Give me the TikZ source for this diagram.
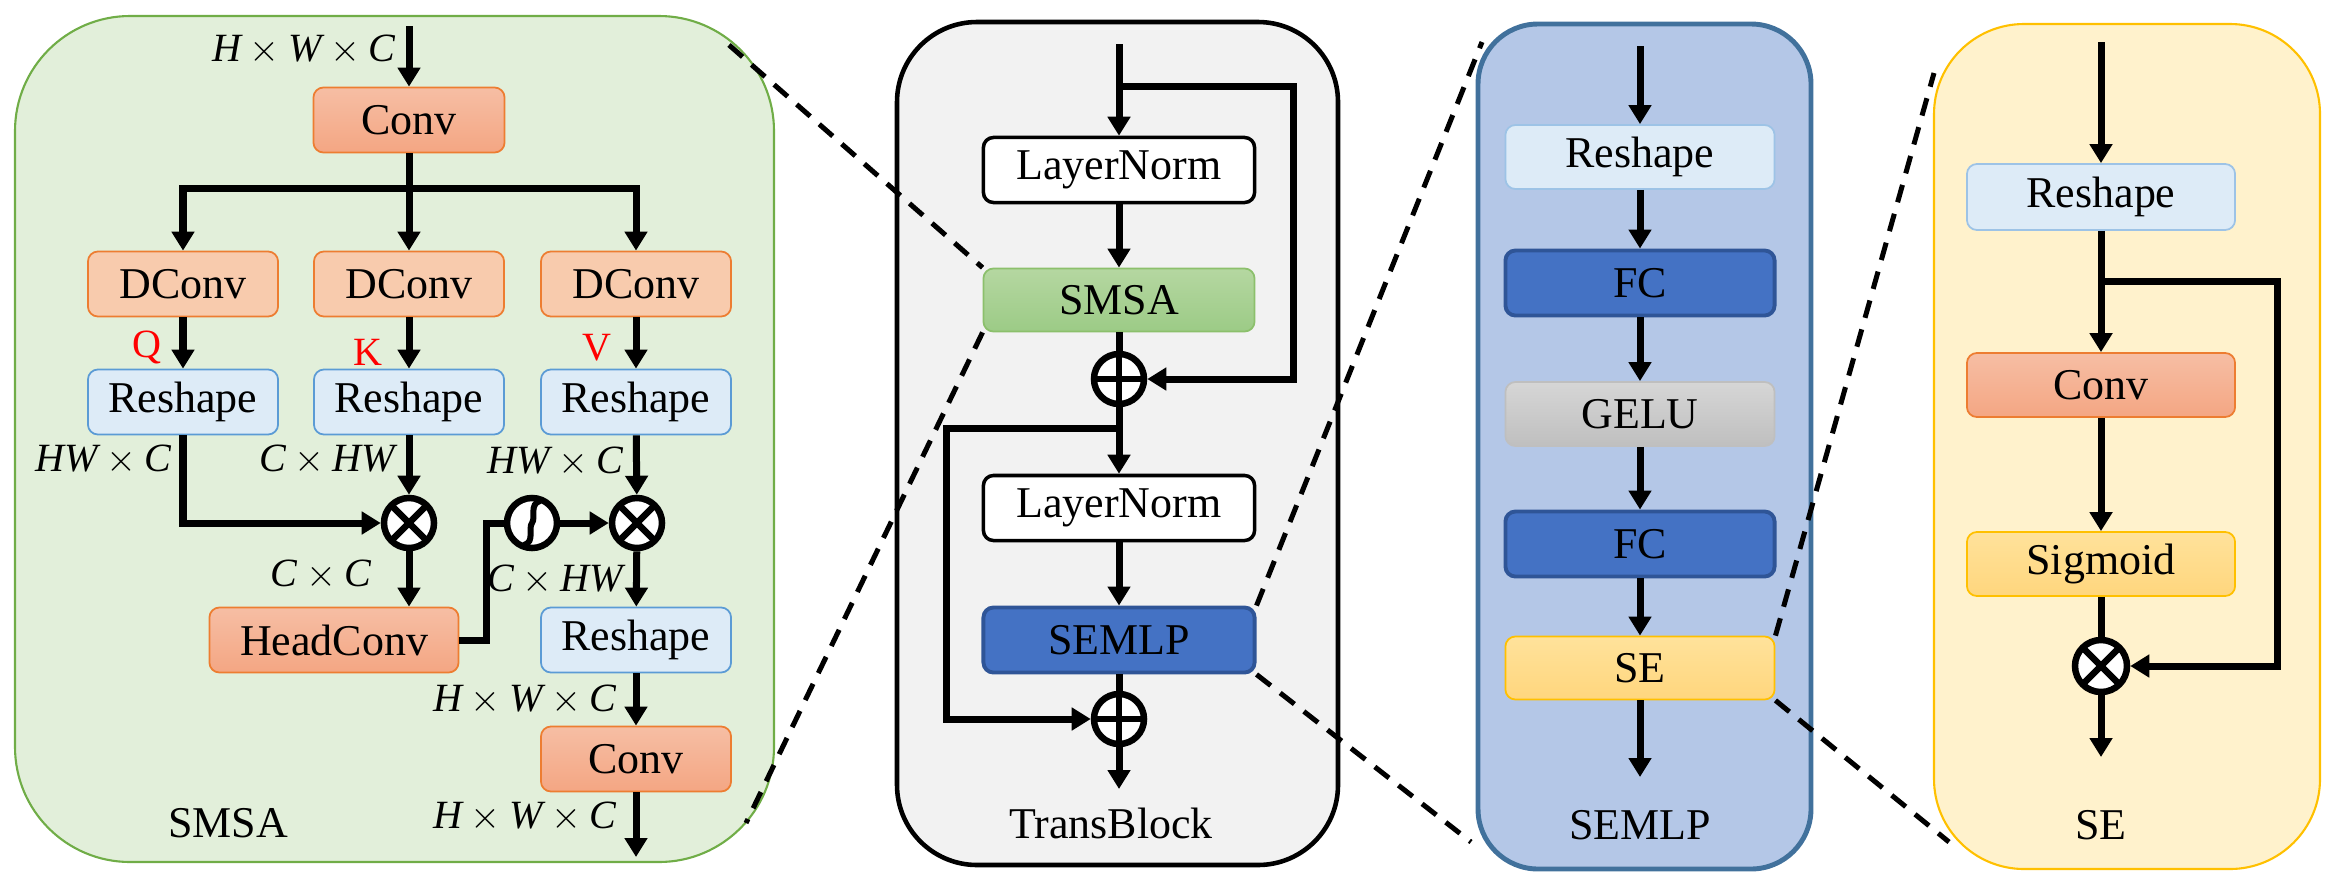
\documentclass[tikz,border=0pt]{standalone}
\usepackage{fontspec}
\setmainfont{Liberation Serif}
\usetikzlibrary{arrows.meta}
\definecolor{pnlgreen}{HTML}{E2EFDA}
\definecolor{edgegreen}{HTML}{70AD47}
\definecolor{orgtop}{HTML}{F6BEA4}
\definecolor{orgbot}{HTML}{F4A683}
\definecolor{orgedge}{HTML}{ED7D31}
\definecolor{dcfill}{HTML}{F8CBAD}
\definecolor{rsfill}{HTML}{DDEBF7}
\definecolor{rsedge}{HTML}{5B9BD5}
\definecolor{rsedgeb}{HTML}{9DC3E6}
\definecolor{smtop}{HTML}{B5D7A1}
\definecolor{smbot}{HTML}{9CCB86}
\definecolor{smedge}{HTML}{8CC06C}
\definecolor{tbfill}{HTML}{F2F2F2}
\definecolor{mlpfill}{HTML}{B4C7E7}
\definecolor{mlpedge}{HTML}{41719C}
\definecolor{fcfill}{HTML}{4472C4}
\definecolor{fcedge}{HTML}{2F5597}
\definecolor{getop}{HTML}{D6D6D6}
\definecolor{gebot}{HTML}{BFBFBF}
\definecolor{yetop}{HTML}{FFE29B}
\definecolor{yebot}{HTML}{FFD67D}
\definecolor{yeedge}{HTML}{FFC000}
\definecolor{sefill}{HTML}{FFF2CC}
\tikzset{
  box/.style={rounded corners=0.1cm,inner sep=0pt,minimum height=0.65cm,font=\fontsize{12.5}{15}\selectfont},
  convbox/.style={box,draw=orgedge,top color=orgtop,bottom color=orgbot,line width=0.5pt},
  dconvbox/.style={box,draw=orgedge,fill=dcfill,line width=0.5pt},
  shapebox/.style={box,draw=rsedge,fill=rsfill,line width=0.5pt},
  normbox/.style={box,draw,fill=white,line width=1pt},
  smsabox/.style={box,draw=smedge,top color=smtop,bottom color=smbot,line width=0.5pt},
  fcbox/.style={box,draw=fcedge,fill=fcfill,line width=1.1pt},
  gelubox/.style={box,draw=gebot,top color=getop,bottom color=gebot,line width=0.5pt},
  yellowbox/.style={box,draw=yeedge,top color=yetop,bottom color=yebot,line width=0.5pt},
  dimlab/.style={anchor=east,inner sep=0pt,font=\fontsize{11.4}{13}\selectfont},
  qkv/.style={text=red,inner sep=0pt,font=\fontsize{11.4}{13}\selectfont},
  paneltitle/.style={inner sep=0pt,font=\fontsize{12.5}{15}\selectfont},
  wire/.style={line width=0.07cm},
  arr/.style={wire,-{Triangle[length=0.19cm,width=0.22cm]}},
  opnode/.style={circle,draw,fill=white,line width=0.065cm,minimum size=0.5cm,inner sep=0pt},
  multop/.style={opnode,path picture={\draw[line width=0.065cm](path picture bounding box.north west)--(path picture bounding box.south east)(path picture bounding box.north east)--(path picture bounding box.south west);}},
  addop/.style={opnode,path picture={\draw[line width=0.065cm](path picture bounding box.north)--(path picture bounding box.south)(path picture bounding box.west)--(path picture bounding box.east);}},
  zoomline/.style={line width=0.05cm,dash pattern=on 0.18cm off 0.12cm},
}
\begin{document}
\begin{tikzpicture}[x=0.01cm,y=-0.01cm]
\useasboundingbox(0,0)rectangle(2336,884);
\draw[draw=edgegreen,fill=pnlgreen,rounded corners=1.15cm,line width=0.6pt](15,16)rectangle(774,862);
\draw[fill=tbfill,rounded corners=0.8cm,line width=1.3pt](897,22)rectangle(1338,865);
\draw[draw=mlpedge,fill=mlpfill,rounded corners=0.6cm,line width=1.4pt](1478,24)rectangle(1811,869);
\draw[draw=yeedge,fill=sefill,rounded corners=0.9cm,line width=0.6pt](1934,24)rectangle(2320,869);
% SMSA
\coordinate(smin)at(409,26);
\coordinate(br)at(409,188);
\coordinate(smout)at(636,857);
\node[dimlab](lin)at(396,50){$\mathit{H}\times\mathit{W}\times\mathit{C}$};
\node[convbox,minimum width=1.91cm](conv1)at(409,120){Conv};
\foreach \n/\x/\lx/\ly/\t in {q/183/147/347/Q,k/409/368/352/K,v/636/597/348/V}{
  \node[dconvbox,minimum width=1.9cm](d\n)at(\x,284){DConv};
  \node[shapebox,minimum width=1.9cm](r\n)at(\x,402){Reshape};
  \node[qkv](l\n)at(\lx,\ly){\t};
  \draw[arr](d\n)--(r\n);
}
\draw[arr](smin)--(conv1);
\draw[arr](conv1)--(dk);
\foreach \n in {q,v}\draw[arr](br)-|(d\n);
\node[dimlab](lq)at(172,460){$\mathit{HW}\times\mathit{C}$};
\node[dimlab](lk)at(396,460){$\mathit{C}\times\mathit{HW}$};
\node[dimlab](lv)at(624,462){$\mathit{HW}\times\mathit{C}$};
\node[multop](m1)at(409,523){};
\node[opnode](sn)at(532,523){};
\draw[line width=0.06cm]([shift={(-8,22)}]sn.center)..controls([shift={(3,19)}]sn.center)and([shift={(-4,5)}]sn.center)..(sn.center)..controls([shift={(4,-5)}]sn.center)and([shift={(-3,-19)}]sn.center)..([shift={(8,-22)}]sn.center);
\node[multop](m2)at(637,523){};
\node[convbox,minimum width=2.49cm](hc)at(334,640){HeadConv};
\node[shapebox,minimum width=1.9cm](r4)at(636,640){Reshape};
\node[convbox,minimum width=1.9cm](conv2)at(636,759){Conv};
\node[dimlab](lcc)at(372,575){$\mathit{C}\times\mathit{C}$};
\node[dimlab](lchw)at(624,580){$\mathit{C}\times\mathit{HW}$};
\node[dimlab](lr4)at(617,700){$\mathit{H}\times\mathit{W}\times\mathit{C}$};
\node[dimlab](lout)at(617,817){$\mathit{H}\times\mathit{W}\times\mathit{C}$};
\node[paneltitle](tsmsa)at(228,823){SMSA};
\draw[arr](rq)|-(m1);
\draw[arr](rk)--(m1);
\draw[arr](m1)--(m1|-hc.north);
\draw[wire](hc.east)--++(27,0)|-(sn);
\draw[arr](sn)--(m2);
\draw[arr](rv)--(m2);
\draw[arr](m2)--(r4);
\draw[arr](r4)--(conv2);
\draw[arr](conv2)--(smout);
% TransBlock
\coordinate(tin)at(1119,44);
\coordinate(s1)at(1119,86);
\coordinate(s2)at(1119,428);
\coordinate(tout)at(1119,789);
\node[normbox,minimum width=2.71cm](ln1)at(1119,170){LayerNorm};
\node[smsabox,minimum width=2.71cm,minimum height=0.63cm](sm)at(1119,300){SMSA};
\node[addop](p1)at(1119,379){};
\node[normbox,minimum width=2.71cm](ln2)at(1119,508){LayerNorm};
\node[fcbox,minimum width=2.71cm](mlp)at(1119,640){SEMLP};
\node[addop](p2)at(1119,719){};
\node[paneltitle](ttb)at(1111,823){TransBlock};
\draw[arr](tin)--(ln1);
\draw[arr](ln1)--(sm);
\draw[wire](sm)--(p1);
\draw[arr](p1)--(ln2);
\draw[arr](ln2)--(mlp);
\draw[wire](mlp)--(p2);
\draw[arr](p2)--(tout);
\draw[arr](s1)--++(174,0)|-(p1);
\draw[arr](s2)--++(-173,0)|-(p2);
% SEMLP
\coordinate(min)at(1640,46);
\coordinate(mout)at(1640,777);
\node[shapebox,draw=rsedgeb,minimum width=2.69cm,minimum height=0.64cm](mr)at(1640,157){Reshape};
\node[fcbox,minimum width=2.69cm](fc1)at(1640,283){FC};
\node[gelubox,minimum width=2.69cm,minimum height=0.64cm](gelu)at(1640,414){GELU};
\node[fcbox,minimum width=2.69cm](fc2)at(1640,544){FC};
\node[yellowbox,minimum width=2.69cm,minimum height=0.63cm](sebox)at(1640,668){SE};
\node[paneltitle](tmlp)at(1640,825){SEMLP};
\draw[arr](min)--(mr);
\draw[arr](mr)--(fc1);
\draw[arr](fc1)--(gelu);
\draw[arr](gelu)--(fc2);
\draw[arr](fc2)--(sebox);
\draw[arr](sebox)--(mout);
% SE
\coordinate(ein)at(2101,42);
\coordinate(s3)at(2101,281);
\coordinate(eout)at(2101,757);
\node[shapebox,draw=rsedgeb,minimum width=2.68cm,minimum height=0.66cm](er)at(2101,197){Reshape};
\node[convbox,minimum width=2.68cm,minimum height=0.64cm](ec)at(2101,385){Conv};
\node[yellowbox,minimum width=2.68cm,minimum height=0.64cm](sig)at(2101,564){Sigmoid};
\node[multop,minimum size=0.52cm](sx)at(2101,666){};
\node[paneltitle](tse)at(2101,825){SE};
\draw[arr](ein)--(er);
\draw[arr](er)--(ec);
\draw[arr](ec)--(sig);
\draw[wire](sig)--(sx);
\draw[arr](sx)--(eout);
\draw[arr](s3)--++(176,0)|-(sx);
% zoom lines
\coordinate(z1)at(729,45);
\coordinate(z2)at(746,823);
\coordinate(z3)at(1482,42);
\coordinate(z4)at(1471,842);
\coordinate(z5)at(1934,73);
\coordinate(z6)at(1949,842);
\draw[zoomline](z1)--(sm.north west);
\draw[zoomline](sm.south west)--(z2);
\draw[zoomline](mlp.north east)--(z3);
\draw[zoomline](mlp.south east)--(z4);
\draw[zoomline](sebox.north east)--(z5);
\draw[zoomline](sebox.south east)--(z6);
\end{tikzpicture}
\end{document}
